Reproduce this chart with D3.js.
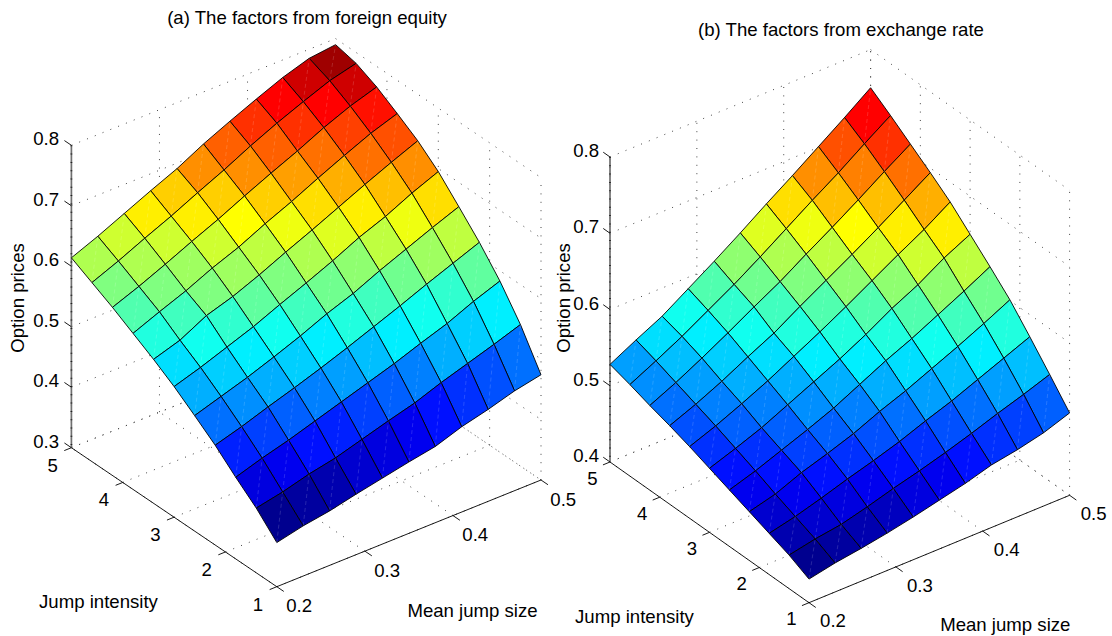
<!DOCTYPE html>
<html><head><meta charset="utf-8">
<script src="https://d3js.org/d3.v7.min.js"></script>
<style>html,body{margin:0;padding:0;background:#fff}svg{display:block}text{font-family:"Liberation Sans",Arial,sans-serif;fill:#000}</style>
</head><body><svg id="c" width="1112" height="636"></svg>
<script>
const xValues=[0.2,0.23,0.26,0.29,0.32,0.35,0.38,0.41,0.44,0.47,0.5];
const yValues=[1,1.4,1.8,2.2,2.6,3,3.4,3.8,4.2,4.6,5];
const xTicks=[0.2,0.3,0.4,0.5];
const yTicks=[1,2,3,4,5];
const zTicksA=[0.3,0.4,0.5,0.6,0.7,0.8];
const zTicksB=[0.4,0.5,0.6,0.7,0.8];
const titleA="(a) The factors from foreign equity";
const titleB="(b) The factors from exchange rate";
// rows: jump intensity 1..5, columns: mean jump size 0.2..0.5
const pricesA=[
[.373,.383,.390,.400,.409,.418,.426,.441,.452,.465,.474],
[.407,.416,.428,.437,.450,.463,.475,.491,.505,.519,.534],
[.435,.449,.461,.475,.489,.503,.517,.533,.548,.567,.583],
[.465,.478,.493,.507,.522,.538,.555,.572,.590,.607,.624],
[.491,.505,.519,.535,.552,.571,.587,.607,.625,.643,.660],
[.516,.530,.546,.562,.581,.599,.618,.639,.656,.677,.695],
[.538,.552,.575,.589,.607,.627,.646,.666,.686,.705,.723],
[.558,.576,.593,.613,.630,.651,.670,.691,.711,.730,.745],
[.578,.595,.614,.634,.653,.674,.694,.713,.734,.752,.766],
[.596,.614,.634,.653,.674,.694,.716,.736,.754,.771,.782],
[.614,.632,.652,.672,.691,.714,.734,.753,.771,.785,.790]];
const pricesB=[
[.431,.438,.443,.449,.456,.464,.472,.482,.488,.496,.508],
[.444,.451,.456,.465,.475,.484,.494,.505,.517,.528,.540],
[.454,.462,.472,.483,.493,.504,.517,.529,.543,.557,.571],
[.464,.473,.487,.498,.510,.525,.538,.553,.568,.584,.601],
[.474,.485,.498,.511,.525,.542,.559,.574,.591,.608,.626],
[.484,.496,.509,.525,.541,.557,.575,.595,.612,.633,.650],
[.494,.507,.522,.538,.556,.574,.593,.613,.633,.652,.674],
[.503,.517,.533,.551,.568,.589,.609,.629,.650,.672,.694],
[.511,.527,.545,.564,.584,.603,.625,.646,.668,.691,.713],
[.520,.537,.555,.575,.595,.617,.640,.663,.685,.709,.732],
[.528,.546,.563,.585,.607,.630,.654,.677,.701,.725,.750]];

const svg=d3.select("#c");
const FS=18.6;
function jet(frac){
  const idx=Math.min(64,Math.floor(frac*64)+1),t=idx/64;
  const c=v=>Math.round(255*Math.max(0,Math.min(1,1.5-Math.abs(4*t-v))));
  return `rgb(${c(3)},${c(2)},${c(1)})`;
}
function panel(cfg){
  const g=svg.append("g");
  const xToX=d3.scaleLinear().domain([.2,.5]).range([0,cfg.right[0]-cfg.front[0]]);
  const xToY=d3.scaleLinear().domain([.2,.5]).range([0,cfg.right[1]-cfg.front[1]]);
  const yToX=d3.scaleLinear().domain([1,5]).range([0,cfg.left[0]-cfg.front[0]]);
  const yToY=d3.scaleLinear().domain([1,5]).range([0,cfg.left[1]-cfg.front[1]]);
  const zs=cfg.zTicks,z0=zs[0],z1=zs[zs.length-1];
  const zToY=d3.scaleLinear().domain([z0,z1]).range([0,-cfg.zHeight]);
  const P=(x,y,z)=>[cfg.front[0]+xToX(x)+yToX(y),cfg.front[1]+xToY(x)+yToY(y)+zToY(z)];
  const line=(a,b,o)=>g.append("line").attr("x1",a[0]).attr("y1",a[1]).attr("x2",b[0]).attr("y2",b[1])
     .attr("stroke",o.c||"#000").attr("stroke-width",o.w||.9).attr("stroke-dasharray",o.d||null);
  const dot={d:"1 7.4",w:1,c:"#444"};
  // grid on walls and floor
  zs.forEach(z=>{line(P(.2,5,z),P(.5,5,z),dot);line(P(.5,5,z),P(.5,1,z),dot);});
  xTicks.forEach(x=>{line(P(x,1,z0),P(x,5,z0),dot);line(P(x,5,z0),P(x,5,z1),dot);});
  yTicks.forEach(y=>{line(P(.2,y,z0),P(.5,y,z0),dot);line(P(.5,y,z0),P(.5,y,z1),dot);});
  // axes
  line(P(.2,1,z0),P(.5,1,z0),{});
  line(P(.2,1,z0),P(.2,5,z0),{});
  line(P(.2,5,z0),P(.2,5,z1),{c:"#707070",w:1.7});
  line(P(.2,5,z1),P(.2,5,z0),{c:"#222",w:1.7,d:"1 7.3"});
  const kx=.027,ky=.034;
  const dXneg=[-xToX(.5)*kx,-xToY(.5)*kx], dYneg=[-yToX(5)*ky,-yToY(5)*ky], dYpos=[yToX(5)*ky,yToY(5)*ky];
  zs.forEach(z=>{const p=P(.2,5,z);line(p,[p[0]+dYpos[0],p[1]+dYpos[1]],{});
    g.append("text").attr("x",cfg.zLabelX).attr("y",p[1]).attr("text-anchor","end").attr("font-size",FS).text(d3.format(".1f")(z));});
  yTicks.forEach(y=>{const p=P(.2,y,z0);line(p,[p[0]+dXneg[0],p[1]+dXneg[1]],{});
    g.append("text").attr("x",p[0]+cfg.yOff[0]).attr("y",p[1]+cfg.yOff[1]).attr("text-anchor","middle").attr("font-size",FS).text(y);});
  xTicks.forEach(x=>{const p=P(x,1,z0);line(p,[p[0]+dYneg[0],p[1]+dYneg[1]],{});
    g.append("text").attr("x",p[0]+cfg.xOff[0]).attr("y",p[1]+cfg.xOff[1]).attr("text-anchor","middle").attr("font-size",FS).text(d3.format(".1f")(x));});
  // surface
  const Z=cfg.values,flat=Z.flat(),mn=d3.min(flat),mx=d3.max(flat);
  const pathOf=d3.line();
  for(let j=yValues.length-2;j>=0;j--)for(let i=xValues.length-2;i>=0;i--){
    const a=P(xValues[i],yValues[j],Z[j][i]),b=P(xValues[i+1],yValues[j],Z[j][i+1]),
          c=P(xValues[i+1],yValues[j+1],Z[j+1][i+1]),d=P(xValues[i],yValues[j+1],Z[j+1][i]);
    g.append("path").attr("d",pathOf([a,b,c,d])+"Z").attr("fill",jet((Z[j][i]-mn)/(mx-mn))).attr("stroke","#000").attr("stroke-width",.9).attr("stroke-linejoin","round");
    line(a,c,{c:"rgba(255,255,255,.25)",w:.6,d:"4 3"});
  }
  g.append("text").attr("x",cfg.title[0]).attr("y",cfg.title[1]).attr("text-anchor","middle").attr("font-size",FS).text(cfg.titleText);
  g.append("text").attr("x",cfg.xlab[0]).attr("y",cfg.xlab[1]).attr("text-anchor","middle").attr("font-size",FS).text("Mean jump size");
  g.append("text").attr("x",cfg.ylab[0]).attr("y",cfg.ylab[1]).attr("text-anchor","middle").attr("font-size",FS).text("Jump intensity");
  g.append("text").attr("transform",`translate(${cfg.zlab[0]},${cfg.zlab[1]}) rotate(-90)`).attr("text-anchor","middle").attr("font-size",FS).text("Option prices");
}
panel({front:[276.8,586.7],right:[541,480],left:[71.4,447.7],zHeight:302.4,zTicks:zTicksA,values:pricesA,zLabelX:59,
  yOff:[-18.8,24],xOff:[22.3,25.5],
  title:[307,24],titleText:titleA,xlab:[472.5,616.5],ylab:[98.5,608],zlab:[23.5,298]});
panel({front:[809,602.7],right:[1069.6,495.3],left:[610,462],zHeight:305,zTicks:zTicksB,values:pricesB,zLabelX:599,
  yOff:[-17.7,22.7],xOff:[24,24.6],
  title:[841,36],titleText:titleB,xlab:[1005.3,630.7],ylab:[634.5,623.3],zlab:[569.5,298]});
</script></body></html>
